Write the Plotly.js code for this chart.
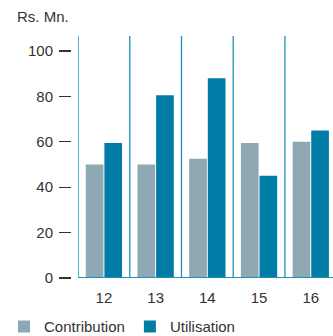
<!DOCTYPE html>
<html>
<head>
<meta charset="utf-8">
<script src="https://cdn.plot.ly/plotly-3.0.1.min.js"></script>
<style>html,body{margin:0;padding:0;background:#fff;}#chart{width:333px;height:336px;}</style>
</head>
<body>
<div id="chart"></div>
<script>
const categories = ["12", "13", "14", "15", "16"];
const contribution = [50, 50, 52.5, 59.5, 60];
const utilisation = [59.5, 80.5, 88, 45, 65];
const yTicks = [0, 20, 40, 60, 80, 100];

const FONT = "Liberation Sans, Arial, sans-serif";
const idx = categories.map((c, i) => i);

const traces = [
  {type: "bar", name: "Contribution", x: idx, y: contribution, marker: {color: "#8ea8b4"}},
  {type: "bar", name: "Utilisation", x: idx, y: utilisation, marker: {color: "#007ca6"}}
];

const shapes = [];
for (let i = 0; i < categories.length; i++) {
  shapes.push({type: "line", xref: "x", yref: "paper", x0: i - 0.5, x1: i - 0.5, y0: 0, y1: 1,
    line: {color: "#1f90bb", width: 1.3}, layer: "above"});
}
shapes.push({type: "line", xref: "x", yref: "y", x0: -0.5, x1: 4.6, y0: 0, y1: 0,
  line: {color: "#1f90bb", width: 2}, layer: "above"});

const layout = {
  width: 333, height: 336,
  margin: {l: 71, r: 0, t: 36, b: 58, autoexpand: false},
  paper_bgcolor: "#fff", plot_bgcolor: "#fff",
  font: {family: FONT, size: 14, color: "#333"},
  title: {text: "Rs. Mn.", xref: "container", yref: "container", x: 0.051, xanchor: "left",
    y: 0.949, yanchor: "middle", font: {family: FONT, size: 15, color: "#333"}},
  barmode: "group", bargap: 0.28, bargroupgap: 0.05,
  showlegend: true,
  legend: {orientation: "h", xref: "container", yref: "paper", x: 0.012, xanchor: "left", y: -0.133, yanchor: "top",
    font: {family: FONT, size: 15, color: "#333"}, itemwidth: 30, traceorder: "normal", tracegroupgap: 0},
  xaxis: {
    domain: [0.027, 1], range: [-0.5, 4.43],
    tickmode: "array", tickvals: idx, ticktext: categories, ticklabelstandoff: 9,
    tickfont: {size: 15},
    showgrid: false, zeroline: false, showline: false, ticks: "", fixedrange: true
  },
  yaxis: {
    anchor: "free", position: 0, range: [0, 106.6],
    tickmode: "array", tickvals: yTicks, ticklabelstandoff: 3,
    tickfont: {size: 15},
    ticks: "outside", ticklen: 12, tickwidth: 1.2, tickcolor: "#333",
    showgrid: false, zeroline: false, showline: false, fixedrange: true
  },
  shapes: shapes
};

Plotly.newPlot("chart", traces, layout, {displayModeBar: false, staticPlot: true});
</script>
</body>
</html>
